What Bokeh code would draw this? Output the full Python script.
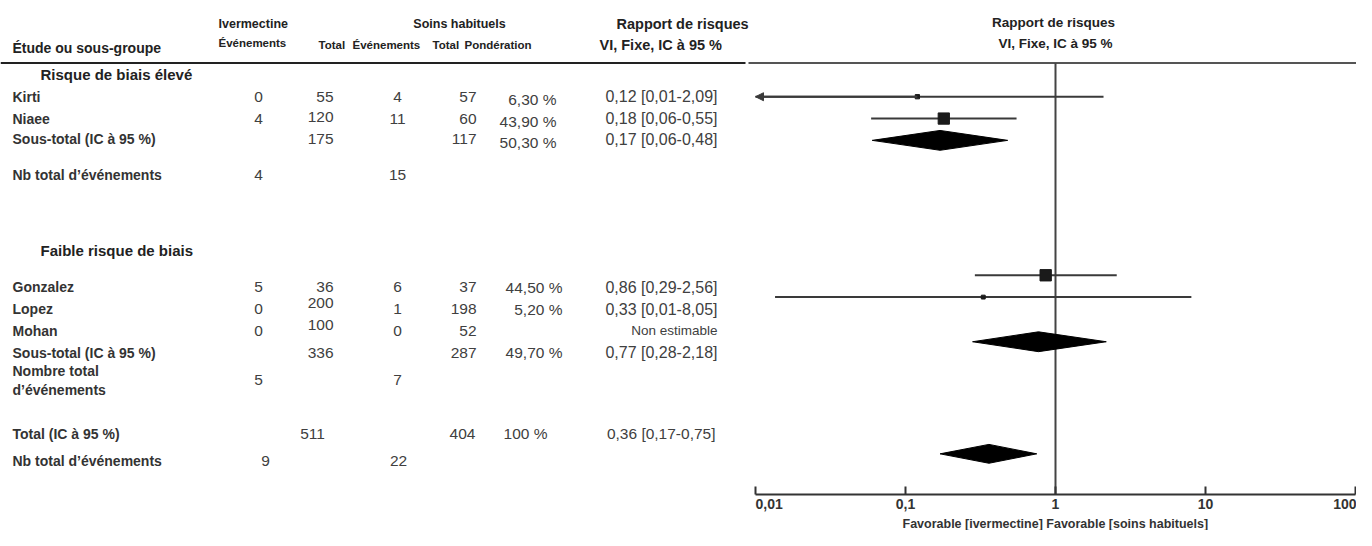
import math
from bokeh.plotting import figure
from bokeh.models import (Range1d, LogScale, LogAxis, FixedTicker, ColumnDataSource,
                          NormalHead, Arrow, Title)
from bokeh.core.properties import value
from bokeh.embed import file_html
from bokeh.resources import INLINE

# ---------------- data ----------------
studies = ["Kirti", "Niaee", "Gonzalez", "Lopez", "Mohan"]
iv_events = [0, 4, 5, 0, 0]
iv_total = [55, 120, 36, 200, 100]
sc_events = [4, 11, 6, 1, 0]
sc_total = [57, 60, 37, 198, 52]
weight = [6.30, 43.90, 44.50, 5.20, None]
rr = [0.12, 0.18, 0.86, 0.33, None]
ci_low = [0.0069, 0.059, 0.29, 0.0135, None]
ci_high = [2.09, 0.55, 2.56, 8.05, None]
rr_text = ["0,12 [0,01-2,09]", "0,18 [0,06-0,55]", "0,86 [0,29-2,56]",
           "0,33 [0,01-8,05]", "Non estimable"]

groups = ["Risque de biais élevé", "Faible risque de biais"]
sub_iv_total = [175, 336]
sub_sc_total = [117, 287]
sub_weight = [50.30, 49.70]
sub_rr = [0.17, 0.77]
sub_low = [0.06, 0.28]
sub_high = [0.48, 2.18]
sub_rr_text = ["0,17 [0,06-0,48]", "0,77 [0,28-2,18]"]
sub_iv_events = [4, 5]
sub_sc_events = [15, 7]
sub_event_labels = ["Nb total d’événements", "Nombre total\nd’événements"]

tot_iv_total = 511
tot_sc_total = 404
tot_weight = 100
tot_rr = 0.36
tot_low = 0.17
tot_high = 0.75
tot_rr_text = "0,36 [0,17-0,75]"
tot_iv_events = 9
tot_sc_events = 22

axis_ticks = [0.01, 0.1, 1, 10, 100]
axis_tick_labels = ["0,01", "0,1", "1", "10", "100"]
axis_title = "Favorable [ivermectine] Favorable [soins habituels]"

# ---------------- layout (image pixel coordinates) ----------------
W, H = 1356, 530
BOTTOM = 32                 # space under the forest axis line
AXIS_Y = H - BOTTOM
ONE_X = 1055.0
PPD = 150.0
NB = "\u00a0"
# the first tick label is padded so that it starts at its tick, as in the original
tick_pad_left = [7, 0, 0, 0, 0]
TITLE_W = 306               # approx. width of the 12.5px bold axis title

study_y = [97, 119, 289, 311, 333]
study_y_forest = [97, 119, 277, 299, None]
iv_total_dy = [0, -2, 0, -6, -6]
weight_dy = [3, 3, 0, 0, 0]
weight_right = [556, 556, 562, 562, 562]
group_y = [75, 252]
sub_y = [140, 355]
sub_weight_dy = [3, 0]
sub_y_forest = [141, 344]
sub_event_y = [176, 383]
total_y = 437
total_ev_y = 464
total_y_forest = 457

X_LABEL, X_GROUP = 12, 40
X_IVE, X_IVT, X_SCE, X_SCT, X_RR = 258, 333, 397, 476, 717

FONT = "Liberation Sans"
C_HEAD = "#222222"
C_LAB = "#333333"
C_NUM = "#404040"
C_FOREST = "#3a3a3a"

p = figure(width=W, height=H, output_backend="svg", toolbar_location=None,
           x_range=Range1d(0, W), y_range=Range1d(AXIS_Y, 0),
           x_axis_location=None, y_axis_location=None,
           min_border_left=0, min_border_right=0, min_border_top=0,
           min_border_bottom=BOTTOM)
p.outline_line_color = None
p.grid.grid_line_color = None
p.background_fill_color = "white"
p.border_fill_color = "white"

p.extra_x_ranges = {"rr": Range1d(10 ** ((0 - ONE_X) / PPD), 10 ** ((W - ONE_X) / PPD))}
p.extra_x_scales = {"rr": LogScale()}


def txt(xs, ys, texts, align="left", size="15.5px", bold=False, color=C_NUM):
    src = ColumnDataSource(dict(x=list(xs), y=list(ys), t=list(texts)))
    p.text(x="x", y="y", text="t", source=src, text_align=align, text_baseline="middle",
           text_font=value(FONT), text_font_size=size,
           text_font_style="bold" if bold else "normal", text_color=color)


def pct(w):
    return (f"{w:.2f}".replace(".", ",") + " %") if w is not None else ""


# ---------------- header ----------------
txt([X_LABEL], [48], ["Étude ou sous-groupe"], size="14px", bold=True, color=C_HEAD)
txt([218], [24], ["Ivermectine"], size="12.5px", bold=True, color=C_HEAD)
txt([218, 318, 352, 432, 464], [43, 45, 45, 45, 45],
    ["Événements", "Total", "Événements", "Total", "Pondération"], size="11.5px", bold=True, color=C_HEAD)
txt([459], [24], ["Soins habituels"], align="center", size="12.5px", bold=True, color=C_HEAD)
txt([616], [24], ["Rapport de risques"], size="14.5px", bold=True, color=C_HEAD)
txt([599], [45], ["VI, Fixe, IC à 95 %"], size="14.5px", bold=True, color=C_HEAD)

# header rules
p.segment(x0=[0], y0=[63], x1=[745], y1=[63], line_color="#222222", line_width=2)
p.segment(x0=[748], y0=[63], x1=[W], y1=[63], line_color="#555555", line_width=2)

# ---------------- group headings ----------------
txt([X_GROUP] * 2, group_y, groups, size="15px", bold=True, color=C_HEAD)

# ---------------- studies ----------------
est = [i for i in range(len(studies)) if rr[i] is not None]
non = [i for i in range(len(studies)) if rr[i] is None]
txt([X_LABEL] * 5, study_y, studies, size="14px", bold=True, color=C_LAB)
txt([X_IVE] * 5, study_y, [str(v) for v in iv_events], align="center")
txt([X_IVT] * 5, [y + d for y, d in zip(study_y, iv_total_dy)], [str(v) for v in iv_total], align="right")
txt([X_SCE] * 5, study_y, [str(v) for v in sc_events], align="center")
txt([X_SCT] * 5, study_y, [str(v) for v in sc_total], align="right")
txt([weight_right[i] for i in est], [study_y[i] + weight_dy[i] for i in est],
    [pct(weight[i]) for i in est], align="right")
txt([X_RR] * len(est), [study_y[i] for i in est], [rr_text[i] for i in est], align="right", size="16px")
txt([X_RR] * len(non), [study_y[i] for i in non], [rr_text[i] for i in non], align="right", size="13.5px")

# ---------------- subtotals ----------------
txt([X_LABEL] * 2, sub_y, ["Sous-total (IC à 95 %)"] * 2, size="14px", bold=True, color=C_LAB)
txt([X_IVT] * 2, sub_y, [str(v) for v in sub_iv_total], align="right")
txt([X_SCT] * 2, sub_y, [str(v) for v in sub_sc_total], align="right")
txt([556, 562], [y + d for y, d in zip(sub_y, sub_weight_dy)], [pct(w) for w in sub_weight], align="right")
txt([X_RR] * 2, sub_y, sub_rr_text, align="right", size="16px")
txt([X_LABEL] * 2, sub_event_y, sub_event_labels, size="14px", bold=True, color=C_LAB)
txt([X_IVE] * 2, sub_event_y, [str(v) for v in sub_iv_events], align="center")
txt([X_SCE] * 2, sub_event_y, [str(v) for v in sub_sc_events], align="center")

# ---------------- overall ----------------
txt([X_LABEL], [total_y], ["Total (IC à 95 %)"], size="14px", bold=True, color=C_LAB)
txt([X_LABEL], [total_ev_y], ["Nb total d’événements"], size="14px", bold=True, color=C_LAB)
txt([312, 462, 525], [total_y] * 3, [str(tot_iv_total), str(tot_sc_total), f"{tot_weight} %"],
    align="center")
txt([715], [total_y], [tot_rr_text], align="right")
txt([265, 398], [total_ev_y] * 2, [str(tot_iv_events), str(tot_sc_events)], align="center")

# ---------------- forest plot ----------------
txt([1053], [22], ["Rapport de risques"], align="center", size="13.5px", bold=True, color=C_HEAD)
txt([1055], [43], ["VI, Fixe, IC à 95 %"], align="center", size="13.5px", bold=True, color=C_HEAD)

xmin = axis_ticks[0]
p.segment(x0=[1], y0=[63], x1=[1], y1=[AXIS_Y], x_range_name="rr", line_color="#444444", line_width=2)

ci_src = ColumnDataSource(dict(
    x0=[max(ci_low[i], xmin) for i in est], x1=[ci_high[i] for i in est],
    y=[study_y_forest[i] for i in est]))
p.segment(x0="x0", y0="y", x1="x1", y1="y", source=ci_src, x_range_name="rr",
          line_color=C_FOREST, line_width=2)
sq_src = ColumnDataSource(dict(x=[rr[i] for i in est], y=[study_y_forest[i] for i in est],
                               s=[1.7 * math.sqrt(weight[i]) for i in est]))
p.scatter(x="x", y="y", size="s", source=sq_src, marker="square", x_range_name="rr",
          fill_color="#1a1a1a", line_color="#1a1a1a")

arr = [i for i in est if ci_low[i] < xmin]
arr_src = ColumnDataSource(dict(xs=[rr[i] for i in arr], xe=[xmin] * len(arr),
                                y=[study_y_forest[i] for i in arr]))
p.add_layout(Arrow(end=NormalHead(size=8, fill_color=C_FOREST, line_color=C_FOREST),
                   x_start="xs", y_start="y", x_end="xe", y_end="y", source=arr_src,
                   x_range_name="rr", line_color=C_FOREST, line_width=2))

d_rr = sub_rr + [tot_rr]
d_lo = sub_low + [tot_low]
d_hi = sub_high + [tot_high]
d_y = sub_y_forest + [total_y_forest]
d_h = [10, 10, 9.5]
dia = ColumnDataSource(dict(
    xs=[[lo, c, hi, c] for lo, c, hi in zip(d_lo, d_rr, d_hi)],
    ys=[[y, y - h, y, y + h] for y, h in zip(d_y, d_h)]))
p.patches(xs="xs", ys="ys", source=dia, x_range_name="rr", fill_color="black", line_color="black")

ax = LogAxis(x_range_name="rr", ticker=FixedTicker(ticks=axis_ticks),
             bounds=(axis_ticks[0], axis_ticks[-1]),
             major_label_overrides={t: NB * a + l for t, l, a in
                                    zip(axis_ticks, axis_tick_labels, tick_pad_left)})
ax.axis_line_width = 2
ax.axis_line_color = "#333333"
ax.major_tick_in = 8
ax.major_tick_out = 0
ax.major_tick_line_width = 2
ax.major_tick_line_color = "#333333"
ax.minor_tick_in = 0
ax.minor_tick_out = 0
ax.major_label_text_font = FONT
ax.major_label_text_font_style = "bold"
ax.major_label_text_font_size = "14px"
ax.major_label_text_color = "#333333"
ax.major_label_standoff = 1
p.add_layout(ax, "below")

# axis title centred under the line of no effect
p.add_layout(Title(text=axis_title, align="left", offset=ONE_X - TITLE_W / 2, standoff=0,
                   text_font=FONT, text_font_style="bold", text_font_size="12.5px",
                   text_color="#333333"), "below")

open("out.html", "w").write(file_html(p, INLINE))
